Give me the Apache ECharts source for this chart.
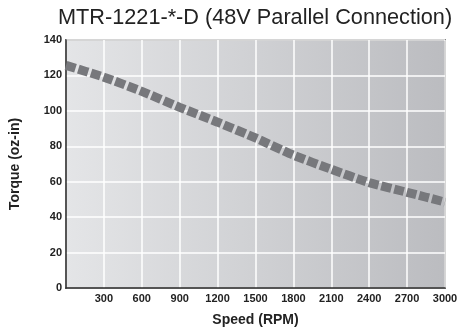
<!DOCTYPE html>
<html><head><meta charset="utf-8">
<script src="https://cdn.jsdelivr.net/npm/echarts@6/dist/echarts.min.js"></script>
<style>html,body{margin:0;padding:0;background:#fff}#c{width:473px;height:335px}</style>
</head><body><div id="c"></div>
<script>
var titleText = 'MTR-1221-*-D (48V Parallel Connection)';
var speedRPM = [0, 300, 600, 900, 1200, 1500, 1800, 2100, 2400, 2700, 3000];
var torqueOzIn = [125.7, 119, 111, 102, 93.6, 84.7, 75, 67, 59.5, 54, 48.5];
var xName = 'Speed (RPM)';
var yName = 'Torque (oz-in)';

var chart = echarts.init(document.getElementById('c'), null, {renderer: 'canvas'});
var narrow = '"Liberation Sans Narrow", "Arial Narrow", "Liberation Sans", sans-serif';
chart.setOption({
  animation: false,
  title: {
    text: titleText, left: 53, top: 2,
    textStyle: {fontFamily: '"Liberation Sans", Arial, sans-serif', fontWeight: 'normal', fontSize: 21.7, color: '#222'}
  },
  grid: {
    left: 65, right: 28, top: 40, bottom: 47, show: true,
    backgroundColor: new echarts.graphic.LinearGradient(0, 0, 1, 0, [
      {offset: 0, color: '#e4e5e7'}, {offset: 1, color: '#bbbcc0'}
    ]),
    borderColor: '#2a2a2a', borderWidth: 1.5
  },
  xAxis: {
    type: 'value', min: 0, max: 3000, interval: 300,
    name: xName, nameLocation: 'middle', nameGap: 25,
    nameTextStyle: {fontFamily: narrow, fontWeight: 'bold', fontSize: 14, color: '#222'},
    axisLine: {show: true, lineStyle: {color: '#2a2a2a', width: 1.5}},
    axisTick: {show: false},
    axisLabel: {fontFamily: narrow, fontWeight: 'bold', fontSize: 11, color: '#222', margin: 5,
      formatter: function (v) { return v === 0 ? '' : String(v); }},
    splitLine: {show: true, lineStyle: {color: '#ffffff', width: 1.5}}
  },
  yAxis: {
    type: 'value', min: 0, max: 140, interval: 20,
    name: yName, nameLocation: 'middle', nameGap: 44,
    nameTextStyle: {fontFamily: narrow, fontWeight: 'bold', fontSize: 14, color: '#222'},
    axisLine: {show: true, lineStyle: {color: '#2a2a2a', width: 1.5}},
    axisTick: {show: false},
    axisLabel: {fontFamily: narrow, fontWeight: 'bold', fontSize: 11, color: '#222', margin: 4},
    splitLine: {show: true, lineStyle: {color: '#ffffff', width: 1.5}}
  },
  series: [{
    type: 'line', smooth: 0.2, symbol: 'none', clip: true,
    data: speedRPM.map(function (s, i) { return [s, torqueOzIn[i]]; }),
    lineStyle: {color: '#77787c', width: 9, type: [10, 3], cap: 'butt'}
  }]
});
</script></body></html>
